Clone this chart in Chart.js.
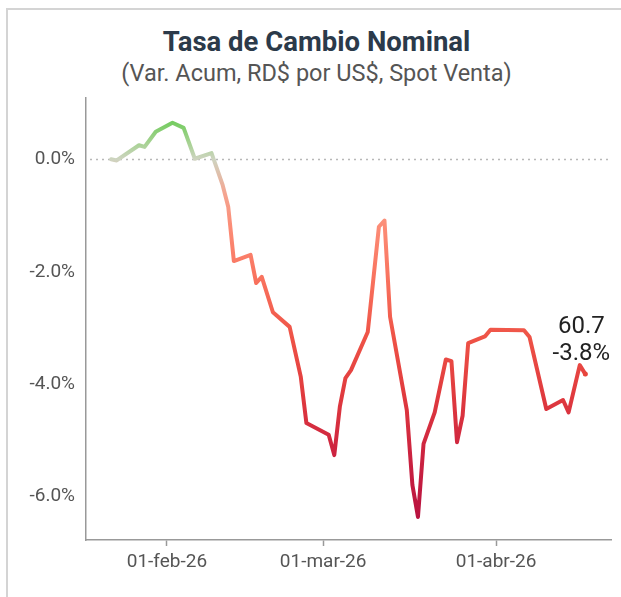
<!DOCTYPE html>
<html>
<head>
<meta charset="utf-8">
<script src="https://cdn.jsdelivr.net/npm/chart.js@4/dist/chart.umd.min.js"></script>
<style>
  html, body { margin:0; padding:0; background:#fff; }
  body { width:621px; height:597px; position:relative; overflow:hidden; font-family: Roboto, "Noto Sans", sans-serif; }
  #frame { position:absolute; left:6px; top:8px; width:640px; height:620px; border:2px solid #d4d4d4; box-sizing:border-box; }
  #title { position:absolute; left:0; width:633px; top:26px; text-align:center; font-weight:700; font-size:27.5px; line-height:32px; color:#2b3a4a; }
  #subtitle { position:absolute; left:0; width:633px; top:59px; text-align:center; font-weight:400; font-size:23.5px; line-height:28px; color:#555; }
  #wrap { position:absolute; left:0; top:0; width:621px; height:597px; }
</style>
</head>
<body>
<div id="frame"></div>
<div id="title">Tasa de Cambio Nominal</div>
<div id="subtitle">(Var. Acum, RD$ por US$, Spot Venta)</div>
<div id="wrap"><canvas id="c" width="621" height="597"></canvas></div>
<script>
// ---- data ----
const dates = [
  '2026-01-22','2026-01-23','2026-01-27','2026-01-28','2026-01-30','2026-02-02','2026-02-04','2026-02-06',
  '2026-02-09','2026-02-11','2026-02-12','2026-02-13','2026-02-16','2026-02-17','2026-02-18','2026-02-20',
  '2026-02-23','2026-02-25','2026-02-26','2026-03-02','2026-03-03','2026-03-04','2026-03-05','2026-03-06',
  '2026-03-09','2026-03-11','2026-03-12','2026-03-13','2026-03-16','2026-03-17','2026-03-18','2026-03-19',
  '2026-03-21','2026-03-23','2026-03-24','2026-03-25','2026-03-26','2026-03-27','2026-03-30','2026-03-31',
  '2026-04-06','2026-04-07','2026-04-10','2026-04-13','2026-04-14','2026-04-16','2026-04-17'
];
const varAcum = [
  0.00, -0.02, 0.25, 0.22, 0.49, 0.65, 0.56, 0.01,
  0.11, -0.46, -0.85, -1.81, -1.70, -2.20, -2.09, -2.72,
  -2.98, -3.87, -4.69, -4.90, -5.26, -4.40, -3.89, -3.75,
  -3.07, -1.20, -1.09, -2.80, -4.46, -5.79, -6.36, -5.06,
  -4.50, -3.56, -3.59, -5.03, -4.56, -3.27, -3.15, -3.03,
  -3.04, -3.16, -4.44, -4.28, -4.50, -3.66, -3.82
];
const lastRate = 60.7;
const yTickValues = [0, -2, -4, -6];
const xTickDates = ['2026-02-01', '2026-03-01', '2026-04-01'];
const monthNames = ['ene','feb','mar','abr','may','jun','jul','ago','sep','oct','nov','dic'];

// ---- helpers ----
function dayOfYear(s) {
  const [y, m, d] = s.split('-').map(Number);
  return Math.round((Date.UTC(y, m - 1, d) - Date.UTC(y, 0, 1)) / 86400000) + 1;
}
function labelForDay(n) {
  const dt = new Date(Date.UTC(2026, 0, 1) + (n - 1) * 86400000);
  const dd = String(dt.getUTCDate()).padStart(2, '0');
  return dd + '-' + monthNames[dt.getUTCMonth()] + '-' + String(dt.getUTCFullYear()).slice(2);
}
const points = dates.map((d, i) => ({ x: dayOfYear(d), y: varAcum[i] }));

const colorStops = [
  [0.65, [118, 204, 98]],
  [0.30, [165, 210, 145]],
  [0.00, [206, 212, 192]],
  [-0.60, [244, 165, 145]],
  [-1.20, [252, 140, 118]],
  [-2.20, [248, 112, 92]],
  [-3.20, [238, 82, 70]],
  [-4.20, [224, 58, 62]],
  [-5.20, [205, 36, 64]],
  [-6.40, [184, 18, 64]]
];

function lineGradient(context) {
  const chart = context.chart;
  const area = chart.chartArea;
  if (!area) return '#e8453c';
  const ys = chart.scales.y;
  const g = chart.ctx.createLinearGradient(0, area.top, 0, area.bottom);
  const h = area.bottom - area.top;
  colorStops.forEach(([v, c]) => {
    let p = (ys.getPixelForValue(v) - area.top) / h;
    p = Math.min(1, Math.max(0, p));
    g.addColorStop(p, 'rgb(' + c.join(',') + ')');
  });
  return g;
}

const zeroLine = {
  id: 'zeroLine',
  beforeDatasetsDraw(chart) {
    const { ctx, chartArea, scales } = chart;
    const y = Math.round(scales.y.getPixelForValue(0)) + 0.5;
    ctx.save();
    ctx.strokeStyle = '#b8b8b8';
    ctx.lineWidth = 1.5;
    ctx.setLineDash([2, 4]);
    ctx.beginPath();
    ctx.moveTo(chartArea.left + 4, y);
    ctx.lineTo(chartArea.right, y);
    ctx.stroke();
    ctx.restore();
  }
};

const lastLabel = {
  id: 'lastLabel',
  afterDatasetsDraw(chart) {
    const meta = chart.getDatasetMeta(0);
    const pt = meta.data[meta.data.length - 1];
    const v = varAcum[varAcum.length - 1];
    const { ctx } = chart;
    ctx.save();
    ctx.fillStyle = '#222';
    ctx.font = '24px Roboto, "Noto Sans", sans-serif';
    ctx.textAlign = 'center';
    ctx.textBaseline = 'alphabetic';
    ctx.fillText(lastRate.toFixed(1), pt.x - 4, pt.y - 41);
    ctx.fillText(v.toFixed(1) + '%', pt.x - 4, pt.y - 14);
    ctx.restore();
  }
};

new Chart(document.getElementById('c'), {
  type: 'line',
  data: {
    datasets: [{
      data: points,
      borderColor: lineGradient,
      backgroundColor: lineGradient,
      borderWidth: 4,
      tension: 0,
      borderJoinStyle: 'round',
      borderCapStyle: 'round',
      pointRadius: points.map((p, i) => i === points.length - 1 ? 2.5 : 0),
      pointBorderWidth: 0,
      pointBackgroundColor: '#e8453c',
      fill: false
    }]
  },
  options: {
    responsive: false,
    animation: false,
    layout: { padding: { top: 98, right: 10, left: 0, bottom: 0 } },
    plugins: { legend: { display: false }, tooltip: { enabled: false } },
    scales: {
      x: {
        type: 'linear',
        min: 17.5,
        max: 111.6,
        afterBuildTicks: (s) => { s.ticks = xTickDates.map(d => ({ value: dayOfYear(d) })); },
        afterFit: (s) => { s.height = 57; },
        ticks: {
          callback: (v) => labelForDay(v),
          color: '#555',
          font: { family: 'Roboto', size: 19 },
          padding: 5,
          maxRotation: 0,
          autoSkip: false
        },
        grid: { drawOnChartArea: false, drawTicks: true, tickLength: 6, tickColor: '#999', tickWidth: 1.5 },
        border: { display: true, color: '#999', width: 1.5 }
      },
      y: {
        type: 'linear',
        min: -6.77,
        max: 1.09,
        afterBuildTicks: (s) => { s.ticks = yTickValues.map(v => ({ value: v })); },
        afterFit: (s) => { s.width = 86; },
        ticks: {
          callback: (v) => v.toFixed(1) + '%',
          color: '#555',
          font: { family: 'Roboto', size: 19 },
          padding: 11
        },
        grid: { drawOnChartArea: false, drawTicks: false },
        border: { display: true, color: '#999', width: 1.5 }
      }
    }
  },
  plugins: [zeroLine, lastLabel]
});
</script>
</body>
</html>
